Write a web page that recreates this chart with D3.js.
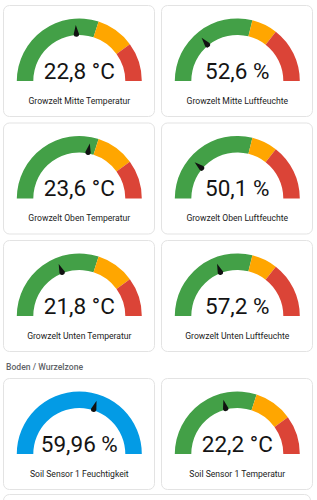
<!DOCTYPE html>
<html>
<head>
<meta charset="utf-8">
<script src="https://cdn.jsdelivr.net/npm/d3@7"></script>
<style>
  html, body { margin: 0; padding: 0; background: #ffffff; }
  svg { display: block; font-family: Roboto, "Noto Sans", sans-serif; }
</style>
</head>
<body>
<svg id="chart" width="317" height="500"></svg>
<script>
/** Sensor names, one per gauge card */
var names = [
    'Growzelt Mitte Temperatur', 'Growzelt Mitte Luftfeuchte',
    'Growzelt Oben Temperatur', 'Growzelt Oben Luftfeuchte',
    'Growzelt Unten Temperatur', 'Growzelt Unten Luftfeuchte',
    'Soil Sensor 1 Feuchtigkeit', 'Soil Sensor 1 Temperatur'
];

/** Current readings */
var values = [22.8, 52.6, 23.6, 50.1, 21.8, 57.2, 59.96, 22.2];
var decimals = [1, 1, 1, 1, 1, 1, 2, 1];
var units = ['°C', '%', '°C', '%', '°C', '%', '%', '°C'];

/** Gauge type per card: temp, hum or soil */
var kinds = ['temp', 'hum', 'temp', 'hum', 'temp', 'hum', 'soil', 'temp'];

/** Ranges and severity breaks per gauge type */
var tempDomain = [18, 28],
    tempBreaks = [24, 26];
var humDomain = [40, 85],
    humBreaks = [66, 72];
var soilDomain = [0, 100];

var sectionTitle = 'Boden / Wurzelzone';

/** Colours */
var green = '#43a047',
    orange = '#ffa600',
    red = '#db4437',
    blue = '#039be5';

/** Layout */
var colX = [3, 161],
    cardW = 151,
    cardH = 111,
    rowY = [5, 122.5, 240, 378],
    innerR = 46,
    outerR = 62.5,
    centerDy = 76;

var fmt = d3.formatLocale({decimal: ',', thousands: '.', grouping: [3], currency: ['', '€']});

var svg = d3.select('#chart');

var arc = d3.arc().innerRadius(innerR).outerRadius(outerR);

function segmentsFor(kind) {
    if (kind === 'temp') {
        return [
            {from: tempDomain[0], to: tempBreaks[0], color: green},
            {from: tempBreaks[0], to: tempBreaks[1], color: orange},
            {from: tempBreaks[1], to: tempDomain[1], color: red}
        ];
    }
    if (kind === 'hum') {
        return [
            {from: humDomain[0], to: humBreaks[0], color: green},
            {from: humBreaks[0], to: humBreaks[1], color: orange},
            {from: humBreaks[1], to: humDomain[1], color: red}
        ];
    }
    return [{from: soilDomain[0], to: soilDomain[1], color: blue}];
}

function domainFor(kind) {
    if (kind === 'temp') return tempDomain;
    if (kind === 'hum') return humDomain;
    return soilDomain;
}

// build card records
var cards = names.map(function (n, i) {
    return {
        name: n,
        value: values[i],
        label: fmt.format('.' + decimals[i] + 'f')(values[i]) + ' ' + units[i],
        kind: kinds[i],
        x: colX[i % 2],
        y: rowY[Math.floor(i / 2)]
    };
});

// section header
svg.append('text')
    .attr('x', 6)
    .attr('y', 369.5)
    .attr('font-size', 8.6)
    .attr('font-weight', 500)
    .attr('fill', '#5f6368')
    .text(sectionTitle);

// partly visible card at the bottom
svg.append('rect')
    .attr('x', 3.5).attr('y', 494.5)
    .attr('width', 307).attr('height', 40)
    .attr('rx', 6)
    .attr('fill', '#fff')
    .attr('stroke', '#e3e3e3');

var card = svg.selectAll('g.card')
    .data(cards)
    .enter()
    .append('g')
    .attr('class', 'card')
    .attr('transform', function (d) { return 'translate(' + d.x + ',' + d.y + ')'; });

card.append('rect')
    .attr('x', 0.5).attr('y', 0.5)
    .attr('width', cardW).attr('height', cardH)
    .attr('rx', 6)
    .attr('fill', '#fff')
    .attr('stroke', '#e3e3e3');

var gauge = card.append('g')
    .attr('transform', 'translate(' + (cardW / 2 + 0.8) + ',' + centerDy + ')');

gauge.each(function (d) {
    var g = d3.select(this);
    var scale = d3.scaleLinear()
        .domain(domainFor(d.kind))
        .range([-Math.PI / 2, Math.PI / 2])
        .clamp(true);

    g.selectAll('path.seg')
        .data(segmentsFor(d.kind))
        .enter()
        .append('path')
        .attr('class', 'seg')
        .attr('d', function (s) {
            return arc({startAngle: scale(s.from), endAngle: scale(s.to)});
        })
        .attr('fill', function (s) { return s.color; });

    // needle: teardrop pointing outward
    var deg = scale(d.value) * 180 / Math.PI;
    g.append('path')
        .attr('d', 'M0,-56 L2.7,-47 A2.7,2.7 0 0 1 -2.7,-47 Z')
        .attr('fill', '#111')
        .attr('transform', 'rotate(' + deg + ')');

    g.append('text')
        .attr('x', 0)
        .attr('y', -2.5)
        .attr('text-anchor', 'middle')
        .attr('font-size', 22.5)
        .attr('fill', '#141414')
        .text(d.label);
});

card.append('text')
    .attr('x', cardW / 2 + 0.8)
    .attr('y', 98.5)
    .attr('text-anchor', 'middle')
    .attr('font-size', 8.6)
    .attr('fill', '#212121')
    .text(function (d) { return d.name; });
</script>
</body>
</html>
